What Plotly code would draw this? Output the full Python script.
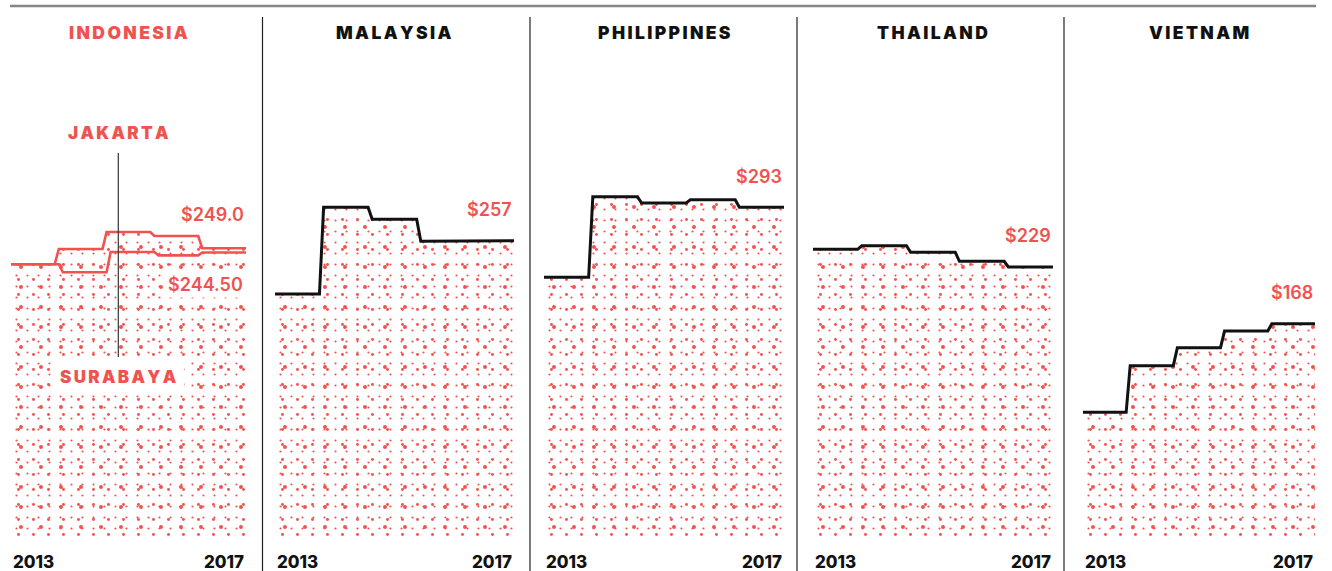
import pandas as pd
import plotly.graph_objects as go

# ---------------- data ----------------
countries = ["INDONESIA", "MALAYSIA", "PHILIPPINES", "THAILAND", "VIETNAM"]
change_dates = ["2013-01-01", "2014-01-01", "2015-01-01", "2016-01-01", "2017-01-01"]
surabaya_dates = ["2013-01-01", "2014-02-01", "2015-02-01", "2016-02-01", "2017-01-01"]
end_date = "2017-12-01"

jakarta = [231.9, 248.2, 266.5, 262.2, 249.0]
surabaya = [231.9, 223.2, 245.0, 241.4, 244.5]
malaysia = [200.0, 293.0, 280.1, 256.6, 257.0]
philippines = [217.8, 304.4, 297.6, 301.2, 293.0]
thailand = [247.9, 251.8, 244.7, 235.0, 229.0]
vietnam = [72.8, 122.9, 142.2, 160.1, 168.0]

value_labels = ["$249.0", "$257", "$293", "$229", "$168"]
surabaya_label = "$244.50"
city_labels = ["JAKARTA", "SURABAYA"]
tick_labels = ["2013", "2017"]

# ---------------- style ----------------
W, H = 1332, 571
RED = "#f0534f"
BLACK = "#111111"
FONT = "Inter"
YMIN, YMAX = -61.1, 497.4
panel_px = [(11, 246), (275, 514), (544, 784), (813, 1053), (1083, 1315)]
sep_px = [262.5, 530, 797, 1064]
y_dom = [(H - 537) / H, (H - 17) / H]
dot_layers = [(11, 0.031), (15, 0.031), (20, 0.031)]


def px_x(p):
    return p / W


def px_y(p):
    return 1 - p / H


def spaced(s):
    return "\u2009".join(s)


def steps(dates, values):
    xs, ys = [], []
    for i, v in enumerate(values):
        if i + 1 < len(dates):
            stop = pd.Timestamp(dates[i + 1]) - pd.DateOffset(months=1)
        else:
            stop = pd.Timestamp(end_date)
        xs += [pd.Timestamp(dates[i]), stop]
        ys += [v, v]
    return xs, ys


series = [jakarta, malaysia, philippines, thailand, vietnam]

fig = go.Figure()
layout_axes = {}
annotations = []

for i, (name, vals) in enumerate(zip(countries, series)):
    n = "" if i == 0 else str(i + 1)
    xa, ya = "x" + n, "y" + n
    color = RED if i == 0 else BLACK
    xs, ys = steps(change_dates, vals)
    for psize, sol in dot_layers:
        fig.add_trace(go.Scatter(x=[pd.Timestamp(change_dates[0]), pd.Timestamp(end_date)],
                                 y=[YMIN, YMIN], mode="lines", line=dict(width=0),
                                 xaxis=xa, yaxis=ya, hoverinfo="skip", showlegend=False))
        fig.add_trace(go.Scatter(x=xs, y=ys, mode="lines", line=dict(width=0),
                                 fill="tonexty", fillcolor="rgba(0,0,0,0)",
                                 fillpattern=dict(shape=".", fgcolor=RED, bgcolor="rgba(0,0,0,0)",
                                                  fgopacity=1, size=psize, solidity=sol),
                                 xaxis=xa, yaxis=ya, hoverinfo="skip", showlegend=False))
    if i == 0:
        sx, sy = steps(surabaya_dates, surabaya)
        fig.add_trace(go.Scatter(x=sx, y=sy, mode="lines", line=dict(color=RED, width=2.6),
                                 xaxis=xa, yaxis=ya, showlegend=False))
    fig.add_trace(go.Scatter(x=xs, y=ys, mode="lines",
                             line=dict(color=color, width=2.6 if i == 0 else 3),
                             xaxis=xa, yaxis=ya, showlegend=False))

    x0, x1 = panel_px[i]
    layout_axes["xaxis" + n] = dict(domain=[px_x(x0), px_x(x1)], anchor=ya, type="date",
                                    range=[change_dates[0], end_date], visible=False, fixedrange=True)
    layout_axes["yaxis" + n] = dict(domain=y_dom, anchor=xa, range=[YMIN, YMAX],
                                    visible=False, fixedrange=True)

    # title
    annotations.append(dict(text=spaced(name), xref="paper", yref="paper",
                            x=px_x((x0 + x1) / 2), y=px_y(32), xanchor="center", yanchor="middle",
                            showarrow=False, font=dict(family=FONT, size=17.5, color=color, weight=900)))
    # value label
    annotations.append(dict(text=value_labels[i], xref=xa, yref=ya, x=end_date, y=vals[-1],
                            xanchor="right", yanchor="middle", yshift=31 if i else 34, showarrow=False,
                            font=dict(family=FONT, size=18, color=RED, weight=600)))
    # year ticks
    annotations.append(dict(text=tick_labels[0], xref="paper", yref="paper", x=px_x(x0), y=px_y(562),
                            xanchor="left", yanchor="middle", showarrow=False,
                            font=dict(family=FONT, size=17, color=BLACK, weight=800)))
    annotations.append(dict(text=tick_labels[1], xref="paper", yref="paper", x=px_x(x1), y=px_y(562),
                            xanchor="right", yanchor="middle", showarrow=False,
                            font=dict(family=FONT, size=17, color=BLACK, weight=800)))

# Indonesia extras
annotations.append(dict(text=surabaya_label, xref="x", yref="y", x=end_date, y=surabaya[-1],
                        xanchor="right", yanchor="middle", yshift=-32, showarrow=False,
                        bgcolor="white", borderpad=2,
                        font=dict(family=FONT, size=18, color=RED, weight=600)))
annotations.append(dict(text=spaced(city_labels[0]), xref="paper", yref="paper",
                        x=px_x(118.3), y=px_y(133), xanchor="center", yanchor="middle",
                        showarrow=False, font=dict(family=FONT, size=17, color=RED, weight=900)))
annotations.append(dict(text=spaced(city_labels[1]), xref="paper", yref="paper",
                        x=px_x(118.3), y=px_y(377), xanchor="center", yanchor="middle",
                        showarrow=False, bgcolor="white", borderpad=7,
                        font=dict(family=FONT, size=17, color=RED, weight=900)))

shapes = [dict(type="line", xref="paper", yref="paper", x0=px_x(10), x1=px_x(1316),
               y0=px_y(6), y1=px_y(6), line=dict(color="#858585", width=2.5))]
for s in sep_px:
    shapes.append(dict(type="line", xref="paper", yref="paper", x0=px_x(s), x1=px_x(s),
                       y0=px_y(17), y1=0, line=dict(color="#222222", width=1.2)))
shapes.append(dict(type="line", xref="paper", yref="paper", x0=px_x(118.3), x1=px_x(118.3),
                   y0=px_y(153), y1=px_y(357), line=dict(color="#333333", width=1.2)))

fig.update_layout(width=W, height=H, margin=dict(l=0, r=0, t=0, b=0),
                  paper_bgcolor="white", plot_bgcolor="rgba(0,0,0,0)",
                  showlegend=False, annotations=annotations, shapes=shapes,
                  font=dict(family=FONT), **layout_axes)

fig.write_html("out.html", config={"displayModeBar": False},
               post_script="document.body.style.margin='0';")
